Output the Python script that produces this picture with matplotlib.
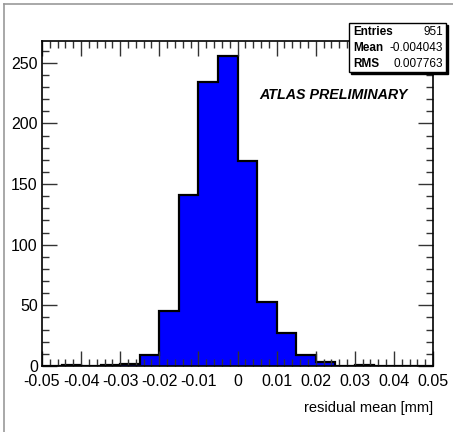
import numpy as np
import matplotlib.pyplot as plt
from matplotlib.ticker import MultipleLocator
from matplotlib.patches import Rectangle
from matplotlib.lines import Line2D

# bin edges and counts
edges = np.linspace(-0.05, 0.05, 21)
counts = [0, 1, 0, 1, 2, 9, 45, 141, 234, 256, 169, 53, 27, 9, 3, 0, 1, 0, 0, 0]
stat_names = ['Entries', 'Mean', 'RMS']
stat_values = ['951', '-0.004043', '0.007763']

plt.rcParams['font.family'] = ['Liberation Sans', 'DejaVu Sans']

fig = plt.figure(figsize=(4.53, 4.32), dpi=100)
W, H = 453, 432
ax = fig.add_axes([42 / W, 1 - 366 / H, (433 - 42) / W, (366 - 41) / H])

ax.stairs(counts, edges, fill=True, color='#0000ff', zorder=1)
ax.stairs(counts, edges, color='black', linewidth=1.6, zorder=1.2)

ax.set_xlim(-0.05, 0.05)
ax.set_ylim(0, 268)
ax.xaxis.set_major_locator(MultipleLocator(0.01))
ax.xaxis.set_minor_locator(MultipleLocator(0.002))
ax.yaxis.set_major_locator(MultipleLocator(50))
ax.yaxis.set_minor_locator(MultipleLocator(10))
ax.tick_params(which='both', direction='in', top=True, right=True,
               labeltop=False, labelright=False, width=1, color='#333333')
ax.tick_params(which='major', length=11, labelsize=11.5)
ax.tick_params(which='minor', length=5)
ax.tick_params(axis='x', which='major', pad=6)
ax.tick_params(axis='y', which='major', pad=3)
ax.set_xticks(np.round(np.arange(-0.05, 0.0501, 0.01), 2))
ax.set_xticklabels(['-0.05', '-0.04', '-0.03', '-0.02', '-0.01', '0',
                    '0.01', '0.02', '0.03', '0.04', '0.05'])
for s in ax.spines.values():
    s.set_linewidth(1.2)

fig.text(433 / W, 1 - 408 / H, 'residual mean [mm]', ha='right', va='center',
         fontsize=10.5)
fig.text(333 / W, 1 - 95 / H, 'ATLAS PRELIMINARY', ha='center', va='center',
         fontsize=10.3, fontweight='bold', style='italic')

# canvas border
fig.add_artist(Line2D([4 / W, 4 / W], [0, 1 - 4 / H], color='#999999', lw=1.2))
fig.add_artist(Line2D([4 / W, 1], [1 - 4 / H, 1 - 4 / H], color='#999999', lw=1.2))

# stat box with shadow
bx0, bx1, by0, by1 = 349, 446, 23, 72
fig.add_artist(Rectangle((bx0 / W + 2 / W, 1 - (by1 + 2) / H), (bx1 - bx0) / W,
                         (by1 - by0) / H, transform=fig.transFigure,
                         facecolor='black', edgecolor='black', zorder=5))
fig.add_artist(Rectangle((bx0 / W, 1 - by1 / H), (bx1 - bx0) / W, (by1 - by0) / H,
                         transform=fig.transFigure, facecolor='white',
                         edgecolor='black', lw=1, zorder=6))
rows = [32, 48, 64]
for name, val, yy in zip(stat_names, stat_values, rows):
    fig.text(353 / W, 1 - yy / H, name, ha='left', va='center', fontsize=8.5,
             fontweight='bold', zorder=7)
    fig.text(443 / W, 1 - yy / H, val, ha='right', va='center', fontsize=8.5,
             zorder=7)

fig.savefig('out.png', dpi=100)
